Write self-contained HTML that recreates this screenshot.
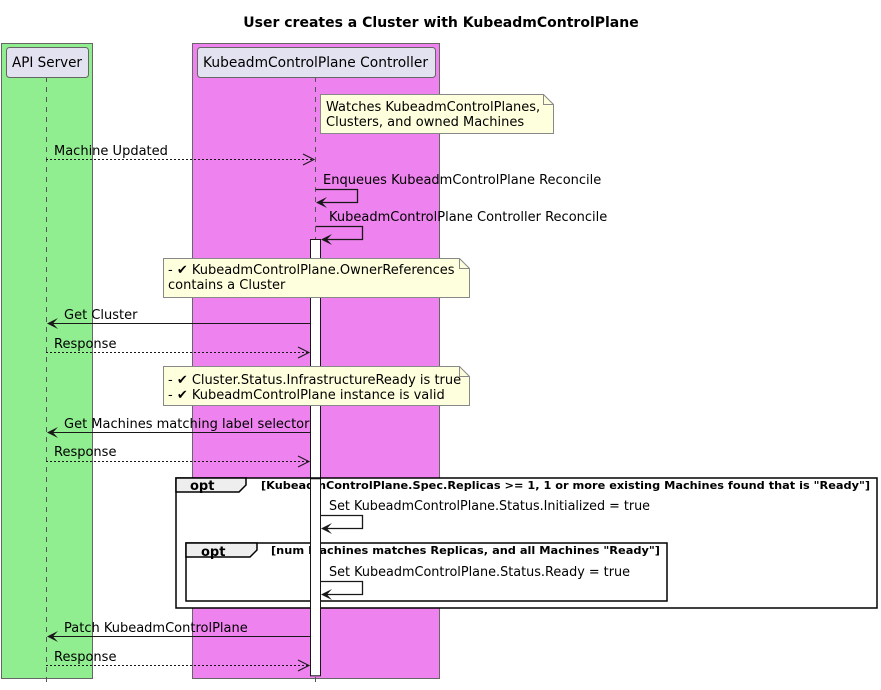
<!DOCTYPE html>
<html><head><meta charset="utf-8"><style>body{margin:0;background:#fff}svg{display:block}text{font-family:"DejaVu Sans","Liberation Sans",sans-serif;font-size:13px;fill:#000}</style></head>
<body>
<svg width="881" height="690" viewBox="0 0 881 690" xmlns="http://www.w3.org/2000/svg">
<text x="441" y="27" text-anchor="middle" style="font-weight:bold;font-size:14px">User creates a Cluster with KubeadmControlPlane</text>
<rect x="1.5" y="43.5" width="91" height="635" fill="#90EE90" stroke="#666"/>
<rect x="192.5" y="43.5" width="247" height="635" fill="#EE82EE" stroke="#666"/>
<line x1="46.5" y1="77" x2="46.5" y2="686" stroke="#555" stroke-dasharray="5,5"/>
<line x1="315.5" y1="77" x2="315.5" y2="686" stroke="#555" stroke-dasharray="5,5"/>
<rect x="6.5" y="47.5" width="82" height="30" rx="3" fill="#E2E2F0" stroke="#666"/>
<text x="12" y="67" style="font-size:14px" textLength="70" lengthAdjust="spacingAndGlyphs">API Server</text>
<rect x="197.5" y="47.5" width="238" height="30" rx="3" fill="#E2E2F0" stroke="#666"/>
<text x="203" y="67" style="font-size:14px" textLength="225" lengthAdjust="spacingAndGlyphs">KubeadmControlPlane Controller</text>
<path d="M320.5,94.5 H543.5 L553.5,104.5 V133.5 H320.5 Z" fill="#FEFFDD" stroke="#888"/><path d="M543.5,94.5 V104.5 H553.5" fill="none" stroke="#888"/>
<text x="326" y="111">Watches KubeadmControlPlanes,</text><text x="326" y="126">Clusters, and owned Machines</text>
<text x="54" y="155">Machine Updated</text>
<line x1="46" y1="159.5" x2="314" y2="159.5" stroke="#181818" stroke-dasharray="2,2"/><path d="M303,154 L314,159.5 L303,165" fill="none" stroke="#181818"/>
<text x="323" y="184">Enqueues KubeadmControlPlane Reconcile</text>
<path d="M315.5,189.5 H357.5 V202.5 H322" fill="none" stroke="#181818" stroke-width="1.3"/><path d="M316,202.5 L327,197 L322,202.5 L327,208 Z" fill="#181818"/>
<text x="329" y="221">KubeadmControlPlane Controller Reconcile</text>
<path d="M315.5,226.5 H362.5 V239.5 H327" fill="none" stroke="#181818" stroke-width="1.3"/><path d="M321,239.5 L332,234 L327,239.5 L332,245 Z" fill="#181818"/>
<rect x="310.5" y="239.5" width="10" height="436" fill="#fff" stroke="#181818"/>
<path d="M163.5,258.5 H459.5 L469.5,268.5 V297.5 H163.5 Z" fill="#FEFFDD" stroke="#888"/><path d="M459.5,258.5 V268.5 H469.5" fill="none" stroke="#888"/>
<text x="168" y="274">- ✔ KubeadmControlPlane.OwnerReferences</text><text x="168" y="289">contains a Cluster</text>
<text x="64" y="319">Get Cluster</text>
<line x1="52" y1="323.5" x2="310" y2="323.5" stroke="#181818"/><path d="M47,323.5 L58,318 L53,323.5 L58,329 Z" fill="#181818"/>
<text x="54" y="348">Response</text>
<line x1="46" y1="352.5" x2="309" y2="352.5" stroke="#181818" stroke-dasharray="2,2"/><path d="M298,347 L309,352.5 L298,358" fill="none" stroke="#181818"/>
<path d="M163.5,366.5 H459.5 L469.5,376.5 V405.5 H163.5 Z" fill="#FEFFDD" stroke="#888"/><path d="M459.5,366.5 V376.5 H469.5" fill="none" stroke="#888"/>
<text x="168" y="384">- ✔ Cluster.Status.InfrastructureReady is true</text><text x="168" y="399">- ✔ KubeadmControlPlane instance is valid</text>
<text x="64" y="428">Get Machines matching label selector</text>
<line x1="52" y1="432.5" x2="310" y2="432.5" stroke="#181818"/><path d="M47,432.5 L58,427 L53,432.5 L58,438 Z" fill="#181818"/>
<text x="54" y="456">Response</text>
<line x1="46" y1="461.5" x2="309" y2="461.5" stroke="#181818" stroke-dasharray="2,2"/><path d="M298,456 L309,461.5 L298,467" fill="none" stroke="#181818"/>
<rect x="176" y="478" width="701" height="130" fill="#fff" stroke="#000" stroke-width="1.5"/>
<path d="M176,478 H246 V485 L239,492 H176 Z" fill="#EEE" stroke="#000" stroke-width="1.5"/>
<text x="190" y="490" style="font-weight:bold">opt</text>
<text x="261" y="489" style="font-weight:bold;font-size:11px" textLength="609" lengthAdjust="spacingAndGlyphs">[KubeadmControlPlane.Spec.Replicas &gt;= 1, 1 or more existing Machines found that is "Ready"]</text>
<rect x="186" y="543" width="481" height="58" fill="#fff" stroke="#000" stroke-width="1.5"/>
<path d="M186,543 H257 V550 L250,557 H186 Z" fill="#EEE" stroke="#000" stroke-width="1.5"/>
<text x="201" y="556" style="font-weight:bold">opt</text>
<text x="271" y="554" style="font-weight:bold;font-size:11px" textLength="389" lengthAdjust="spacingAndGlyphs">[num Machines matches Replicas, and all Machines "Ready"]</text>
<rect x="310.5" y="478.8" width="10" height="197" fill="#fff" stroke="#181818"/>
<text x="329" y="510" textLength="321" lengthAdjust="spacingAndGlyphs">Set KubeadmControlPlane.Status.Initialized = true</text>
<path d="M320.5,515.5 H362.5 V528.5 H327" fill="none" stroke="#181818" stroke-width="1.3"/><path d="M321,528.5 L332,523 L327,528.5 L332,534 Z" fill="#181818"/>
<text x="329" y="576" textLength="301" lengthAdjust="spacingAndGlyphs">Set KubeadmControlPlane.Status.Ready = true</text>
<path d="M320.5,581.5 H362.5 V594.5 H327" fill="none" stroke="#181818" stroke-width="1.3"/><path d="M321,594.5 L332,589 L327,594.5 L332,600 Z" fill="#181818"/>
<text x="64" y="632">Patch KubeadmControlPlane</text>
<line x1="52" y1="636.5" x2="310" y2="636.5" stroke="#181818"/><path d="M47,636.5 L58,631 L53,636.5 L58,642 Z" fill="#181818"/>
<text x="54" y="661">Response</text>
<line x1="46" y1="665.5" x2="309" y2="665.5" stroke="#181818" stroke-dasharray="2,2"/><path d="M298,660 L309,665.5 L298,671" fill="none" stroke="#181818"/>
</svg>
</body></html>
